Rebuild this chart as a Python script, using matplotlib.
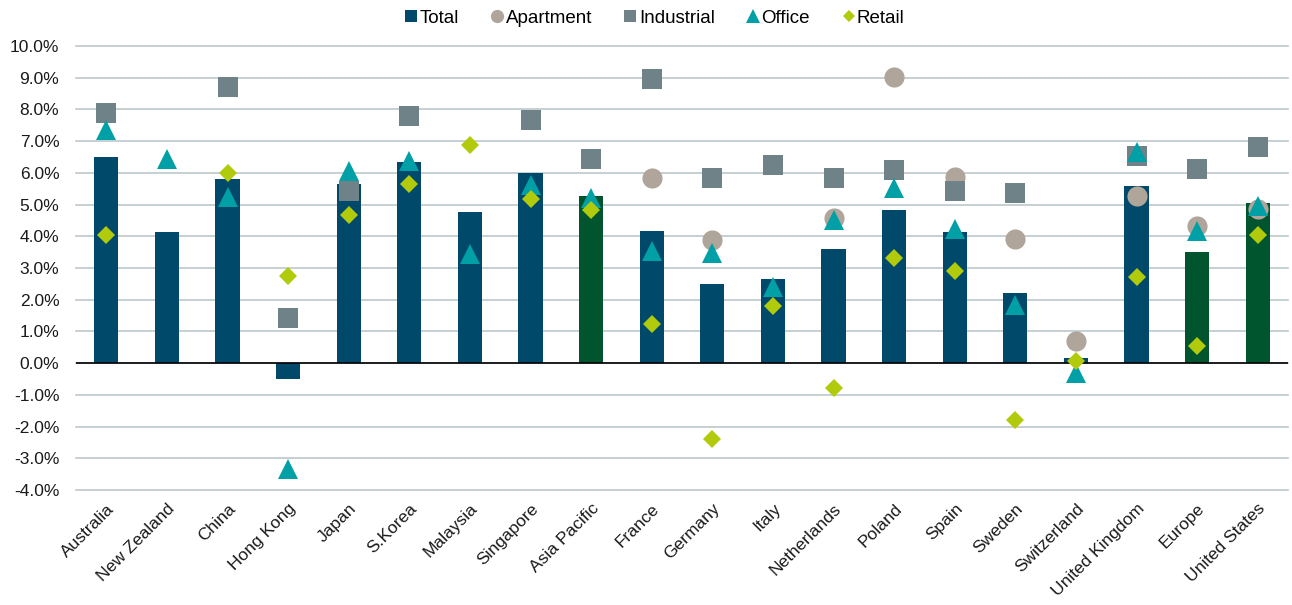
import numpy as np
import matplotlib
matplotlib.use("Agg")
import matplotlib.pyplot as plt
from matplotlib.lines import Line2D
from matplotlib.ticker import FuncFormatter

plt.rcParams['font.family'] = ['Liberation Sans', 'DejaVu Sans']

categories = ["Australia", "New Zealand", "China", "Hong Kong", "Japan", "S.Korea",
              "Malaysia", "Singapore", "Asia Pacific", "France", "Germany", "Italy",
              "Netherlands", "Poland", "Spain", "Sweden", "Switzerland",
              "United Kingdom", "Europe", "United States"]
aggregates = ["Asia Pacific", "Europe", "United States"]

nan = np.nan
total = [6.50, 4.12, 5.80, -0.49, 5.66, 6.34, 4.78, 5.99, 5.26, 4.18, 2.51, 2.65,
         3.60, 4.82, 4.12, 2.20, 0.15, 5.57, 3.50, 5.06]
apartment = [nan, nan, nan, nan, nan, nan, nan, nan, nan, 5.85, 3.88, nan,
             4.58, 9.01, 5.88, 3.93, 0.71, 5.28, 4.33, 4.85]
industrial = [7.90, nan, 8.71, 1.41, 5.42, 7.80, nan, 7.68, 6.45, 8.97, 5.85, 6.26,
              5.85, 6.10, 5.44, 5.35, nan, 6.54, 6.13, 6.83]
office = [7.35, 6.44, 5.24, -3.34, 6.05, 6.37, 3.43, 5.61, 5.22, 3.53, 3.48, 2.41,
          4.51, 5.51, 4.22, 1.83, -0.32, 6.66, 4.17, 4.95]
retail = [4.05, nan, 6.00, 2.75, 4.66, 5.65, 6.89, 5.18, 4.82, 1.25, -2.38, 1.80,
          -0.79, 3.30, 2.90, -1.80, 0.07, 2.71, 0.54, 4.05]
yticks = [-4, -3, -2, -1, 0, 1, 2, 3, 4, 5, 6, 7, 8, 9, 10]

C_TOTAL = "#00496B"
C_AGG = "#00552E"
C_APT = "#AFA59A"
C_IND = "#6E8288"
C_OFF = "#00A0A6"
C_RET = "#B1CB0C"

fig = plt.figure(figsize=(12.92, 6.05), dpi=100)
ax = fig.add_axes([76/1292, 1 - 490/605, (1288-76)/1292, (490-46)/605])

x = np.arange(len(categories))
bar_colors = [C_AGG if c in aggregates else C_TOTAL for c in categories]
ax.bar(x, total, width=0.4, color=bar_colors, zorder=2)

ax.plot(x, apartment, 'o', color=C_APT, ms=14.5, mew=0, zorder=3)
ax.plot(x, industrial, 's', color=C_IND, ms=13.7, mew=0, zorder=4)
ax.plot(x, office, '^', color=C_OFF, ms=14.5, mew=0, zorder=5)
ax.plot(x, retail, 'D', color=C_RET, ms=9.5, mew=0, zorder=6)

ax.set_xlim(-0.5, len(categories) - 0.5)
ax.set_ylim(yticks[0], yticks[-1])
ax.set_yticks(yticks)
ax.yaxis.set_major_formatter(FuncFormatter(lambda v, p: f"{v:.1f}%"))
ax.grid(axis='y', color="#BCC7CB", linewidth=1.2, zorder=0)
for gl in ax.get_ygridlines():
    gl.set_clip_on(False)
ax.set_axisbelow(True)
ax.axhline(0, color="black", linewidth=1.2, zorder=2.5)
for s in ax.spines.values():
    s.set_visible(False)

ax.set_xticks(x)
ax.set_xticklabels(categories, rotation=45, ha='right', rotation_mode='anchor')
ax.tick_params(axis='x', length=0, pad=8, labelsize=12.5, colors="#1a1a1a")
ax.tick_params(axis='y', length=0, pad=12, labelsize=12.5, colors="#1a1a1a")

handles = [
    Line2D([], [], marker='s', color=C_TOTAL, linestyle='none', ms=8.5, mew=0),
    Line2D([], [], marker='o', color=C_APT, linestyle='none', ms=9.5, mew=0),
    Line2D([], [], marker='s', color=C_IND, linestyle='none', ms=8.5, mew=0),
    Line2D([], [], marker='^', color=C_OFF, linestyle='none', ms=10, mew=0),
    Line2D([], [], marker='D', color=C_RET, linestyle='none', ms=6.5, mew=0),
]
labels = ["Total", "Apartment", "Industrial", "Office", "Retail"]
fig.legend(handles, labels, loc='center', bbox_to_anchor=(655/1292, 1 - 18/605),
           ncol=5, frameon=False, fontsize=13.5, handlelength=0.6,
           handletextpad=0.15, columnspacing=1.75, borderpad=0)

fig.savefig("out.png", dpi=100)
